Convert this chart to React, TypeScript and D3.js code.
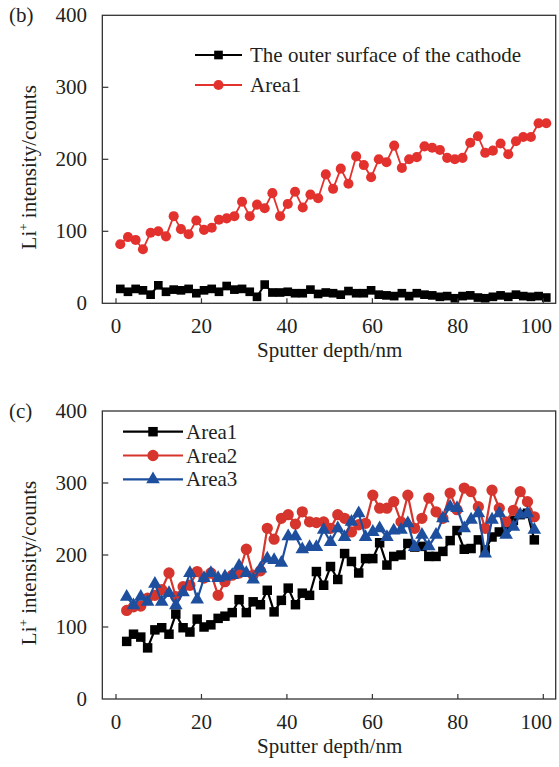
import React from 'react';
import * as d3 from 'd3';

// ---------- data ----------
const topDepth = [1.0, 2.8, 4.6, 6.3, 8.1, 9.9, 11.7, 13.5, 15.2, 17.0, 18.8, 20.6, 22.4, 24.1, 25.9, 27.7, 29.5, 31.3, 33.0, 34.8, 36.6, 38.4, 40.2, 41.9, 43.7, 45.5, 47.3, 49.1, 50.8, 52.6, 54.4, 56.2, 58.0, 59.7, 61.5, 63.3, 65.1, 66.9, 68.6, 70.4, 72.2, 74.0, 75.8, 77.5, 79.3, 81.1, 82.9, 84.7, 86.4, 88.2, 90.0, 91.8, 93.6, 95.3, 97.1, 98.9, 100.7];
const topOuter = [20, 16, 20, 18, 12, 25, 16, 19, 18, 20, 14, 18, 20, 16, 24, 19, 20, 16, 9, 26, 15, 15, 16, 14, 14, 19, 13, 15, 14, 12, 17, 14, 14, 18, 12, 11, 10, 14, 10, 14, 12, 11, 9, 10, 7, 10, 11, 8, 7, 9, 11, 9, 12, 10, 9, 10, 8];
const topArea1 = [82, 92, 88, 75, 98, 100, 93, 121, 103, 96, 115, 102, 105, 116, 118, 121, 141, 121, 137, 132, 153, 121, 138, 155, 133, 151, 146, 179, 159, 187, 166, 204, 192, 175, 200, 196, 219, 188, 200, 203, 218, 216, 213, 202, 200, 202, 223, 232, 209, 212, 222, 207, 225, 231, 231, 250, 250];

const botDepth = [2.5, 4.1, 5.8, 7.4, 9.1, 10.7, 12.4, 14.0, 15.7, 17.3, 19.0, 20.6, 22.2, 23.9, 25.5, 27.2, 28.8, 30.5, 32.1, 33.8, 35.4, 37.0, 38.7, 40.3, 42.0, 43.6, 45.3, 46.9, 48.6, 50.2, 51.9, 53.5, 55.1, 56.8, 58.4, 60.1, 61.7, 63.4, 65.0, 66.7, 68.3, 69.9, 71.6, 73.2, 74.9, 76.5, 78.2, 79.8, 81.5, 83.1, 84.8, 86.4, 88.0, 89.7, 91.3, 93.0, 94.6, 96.3, 97.9];
const botArea1 = [80, 90, 86, 71, 96, 99, 90, 118, 99, 93, 111, 100, 103, 112, 115, 120, 138, 120, 135, 131, 151, 121, 137, 154, 131, 147, 144, 177, 158, 184, 166, 202, 191, 175, 195, 195, 217, 186, 198, 200, 216, 211, 212, 198, 198, 205, 220, 234, 208, 209, 221, 207, 225, 232, 239, 248, 256, 258, 221];
const botArea2 = [123, 128, 129, 140, 144, 152, 175, 142, 156, 158, 177, 168, 175, 144, 163, 172, 175, 208, 172, 178, 237, 222, 251, 256, 243, 260, 246, 245, 246, 237, 256, 251, 232, 242, 244, 283, 265, 265, 274, 246, 283, 237, 251, 279, 260, 251, 286, 263, 293, 288, 267, 237, 290, 265, 246, 262, 288, 274, 253];
const botArea3 = [142, 130, 142, 135, 160, 135, 147, 130, 148, 175, 138, 168, 175, 168, 170, 172, 185, 175, 166, 181, 195, 193, 189, 226, 226, 208, 211, 211, 235, 218, 237, 225, 246, 258, 225, 232, 237, 225, 234, 235, 244, 211, 228, 212, 228, 251, 267, 265, 237, 249, 258, 202, 249, 258, 228, 239, 256, 258, 235];

const xTicks = [0, 20, 40, 60, 80, 100];
const yTicks = [0, 100, 200, 300, 400];

const topLegend = ['The outer surface of the cathode', 'Area1'];
const botLegend = ['Area1', 'Area2', 'Area3'];

// ---------- styles ----------
const W = 559;
const H = 767;
const FONT = '"Liberation Serif", "Times New Roman", Times, serif';
const FS = 21;
const TXT = '#231f20';
const AX = '#333';
const RED_T = '#e3312d';
const RED_B = '#d5352c';
const BLUE = '#1d4f9e';
const BLACK = '#000';

type Series = {
  x: number[];
  y: number[];
  color: string;
  shape: d3.SymbolType;
  size: number;
  name: string;
  lineW: number;
};

const x = d3.scaleLinear().domain([0, 100]).range([116, 543.3]);
const xMin = -3.2;
const xMax = 102.9;

function Marker({ shape, size, color, cx, cy }: { shape: d3.SymbolType; size: number; color: string; cx: number; cy: number }) {
  const p = d3.symbol().type(shape).size(size)() || '';
  return <path d={p} transform={`translate(${cx},${cy})`} fill={color} />;
}

function Panel({
  y,
  series,
  tag,
  legend,
}: {
  y: d3.ScaleLinear<number, number>;
  series: Series[];
  tag: string;
  legend: { x1: number; x2: number; tx: number; ys: number[] };
}) {
  const [y0, y1] = y.range();
  const left = x(xMin);
  const right = x(xMax);
  const midY = (y0 + y1) / 2 + 8;
  return (
    <g>
      <text x={9} y={y1 + 7} fontFamily={FONT} fontSize={FS} fill={TXT}>
        {tag}
      </text>
      {series.map((s) => {
        const line = d3
          .line<number>()
          .x((_, i) => x(s.x[i]))
          .y((v) => y(v));
        return (
          <g key={s.name}>
            <path d={line(s.y) || ''} fill="none" stroke={s.color} strokeWidth={s.lineW} strokeLinejoin="round" />
            {s.y.map((v, i) => (
              <Marker key={i} shape={s.shape} size={s.size} color={s.color} cx={x(s.x[i])} cy={y(v)} />
            ))}
          </g>
        );
      })}
      <rect x={left} y={y1} width={right - left} height={y0 - y1} fill="none" stroke={AX} strokeWidth={1.3} />
      {yTicks.map((t) => (
        <g key={t}>
          {t > 0 && t < 400 && <line x1={left} x2={left + 6} y1={y(t)} y2={y(t)} stroke={AX} strokeWidth={1.2} />}
          <text x={87} y={y(t) + 7} textAnchor="end" fontFamily={FONT} fontSize={FS} fill={TXT}>
            {t}
          </text>
        </g>
      ))}
      {xTicks.map((t) => (
        <g key={t}>
          <line x1={x(t)} x2={x(t)} y1={y0} y2={y0 - 5} stroke={AX} strokeWidth={1.2} />
          <text x={t === 100 ? x(t) - 7 : x(t)} y={y0 + 30} textAnchor="middle" fontFamily={FONT} fontSize={FS} fill={TXT}>
            {t}
          </text>
        </g>
      ))}
      <text x={(116 + 543.3) / 2} y={y0 + 54} textAnchor="middle" fontFamily={FONT} fontSize={FS} fill={TXT}>
        Sputter depth/nm
      </text>
      <text
        transform={`translate(36,${midY}) rotate(-90)`}
        textAnchor="middle"
        fontFamily={FONT}
        fontSize={FS}
        fill={TXT}
      >
        Li<tspan fontSize={13} dy={-8}>+</tspan>
        <tspan dy={8}> intensity/counts</tspan>
      </text>
      {series.map((s, i) => {
        const ly = legend.ys[i];
        return (
          <g key={'lg' + s.name}>
            <line x1={legend.x1} x2={legend.x2} y1={ly} y2={ly} stroke={s.color} strokeWidth={s.lineW} />
            <Marker shape={s.shape} size={s.size} color={s.color} cx={(legend.x1 + legend.x2) / 2} cy={ly} />
            <text x={legend.tx} y={ly + 7} fontFamily={FONT} fontSize={FS} fill={TXT}>
              {s.name}
            </text>
          </g>
        );
      })}
    </g>
  );
}

export default function App() {
  const yTop = d3.scaleLinear().domain([0, 400]).range([303.3, 15.3]);
  const yBot = d3.scaleLinear().domain([0, 400]).range([699, 411]);

  const topSeries: Series[] = [
    { x: topDepth, y: topOuter, color: BLACK, shape: d3.symbolSquare, size: 75, name: topLegend[0], lineW: 2 },
    { x: topDepth, y: topArea1, color: RED_T, shape: d3.symbolCircle, size: 80, name: topLegend[1], lineW: 1.8 },
  ];
  const botSeries: Series[] = [
    { x: botDepth, y: botArea1, color: BLACK, shape: d3.symbolSquare, size: 90, name: botLegend[0], lineW: 2.2 },
    { x: botDepth, y: botArea2, color: RED_B, shape: d3.symbolCircle, size: 100, name: botLegend[1], lineW: 2.2 },
    { x: botDepth, y: botArea3, color: BLUE, shape: d3.symbolTriangle, size: 80, name: botLegend[2], lineW: 2.2 },
  ];

  return (
    <svg width={W} height={H} style={{ position: 'absolute', left: 0, top: 0, background: '#fff' }}>
      <rect width={W} height={H} fill="#fff" />
      <Panel y={yTop} series={topSeries} tag="(b)" legend={{ x1: 195, x2: 242, tx: 250, ys: [55, 85] }} />
      <Panel y={yBot} series={botSeries} tag="(c)" legend={{ x1: 123, x2: 183, tx: 186, ys: [431.7, 455.5, 479.3] }} />
    </svg>
  );
}
